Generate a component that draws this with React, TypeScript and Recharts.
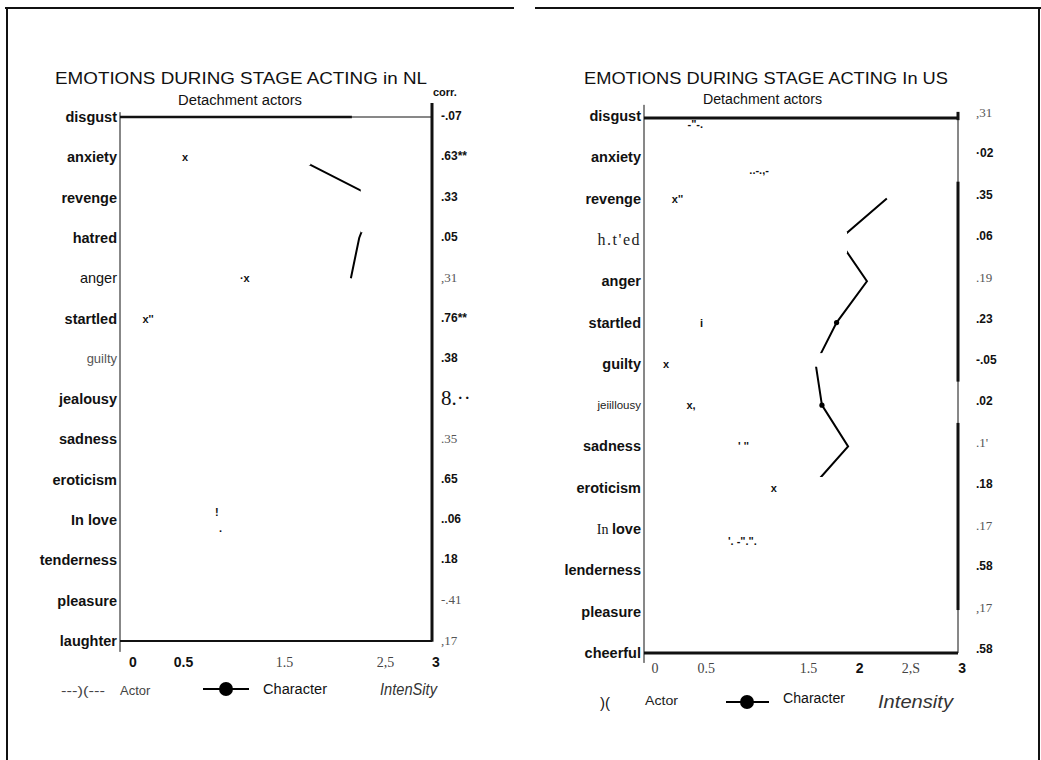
import React from 'react';
import { LineChart, Line, XAxis, YAxis, ReferenceLine, ReferenceArea } from 'recharts';

// ---------- NL panel data ----------
const nlEmotions = ['disgust', 'anxiety', 'revenge', 'hatred', 'anger', 'startled', 'guilty', 'jealousy', 'sadness', 'eroticism', 'In love', 'tenderness', 'pleasure', 'laughter'];
const nlCorr = ['-.07', '.63**', '.33', '.05', ',31', '.76**', '.38', '8.··', '.35', '.65', '..06', '.18', '-.41', ',17'];
const nlCharacter = [null, 1.69, 2.45, 2.3, 2.22, null, null, null, null, null, null, null, null, null];
const nlActor = [null, 0.625, null, null, 1.2, 0.27, null, null, null, null, 0.93, null, null, null];
const nlActorMarks = ['', 'x', '', '', '·x', "x''", '', '', '', '', '!\n·', '', '', ''];
const nlTicks = [0, 0.5, 1.5, 2.5, 3];
const nlTickLabels = ['0', '0.5', '1.5', '2,5', '3'];

// ---------- US panel data ----------
const usEmotions = ['disgust', 'anxiety', 'revenge', "h.t'ed", 'anger', 'startled', 'guilty', 'jeiillousy', 'sadness', 'eroticism', 'In love', 'lenderness', 'pleasure', 'cheerful'];
const usCorr = [',31', '·02', '.35', '.06', '.19', '.23', '-.05', '.02', ".1'", '.18', '.17', '.58', ',17', '.58'];
const usCharacter = [null, null, 2.32, 1.86, 2.13, 1.84, 1.64, 1.7, 1.95, 1.6, null, null, null, null];
const usActor = [0.49, 1.1, 0.32, null, null, 0.55, 0.21, 0.45, 0.95, 1.24, 0.94, null, null, null];
const usActorMarks = ['-"-.', '..-.,-', "x''", '', '', 'i', 'x', 'x,', "' ''", 'x', '\'. -".".', '', '', ''];
const usTicks = [0, 0.5, 1.5, 2, 2.5, 3];
const usTickLabels = ['0', '0.5', '1.5', '2', '2,S', '3'];

// ---------- styling ----------
const SANS = '"Liberation Sans", Arial, Helvetica, sans-serif';
const SERIF = '"Liberation Serif", "Times New Roman", serif';

const FONTS: Record<string, React.CSSProperties> = {
  b: { fontFamily: SANS, fontWeight: 700, fontSize: 14.5, fill: '#111' },
  r: { fontFamily: SANS, fontWeight: 400, fontSize: 14.5, fill: '#111' },
  g: { fontFamily: SANS, fontWeight: 400, fontSize: 13, fill: '#555' },
  t: { fontFamily: SANS, fontWeight: 400, fontSize: 11.5, fill: '#222' },
  s: { fontFamily: SERIF, fontWeight: 400, fontSize: 16, fill: '#222', letterSpacing: 1.5 },
  m: { fontFamily: SANS, fontWeight: 700, fontSize: 14.5, fill: '#111' },
  c: { fontFamily: SANS, fontWeight: 700, fontSize: 12, fill: '#111' },
  f: { fontFamily: SERIF, fontWeight: 400, fontSize: 13, fill: '#555' },
  S: { fontFamily: SERIF, fontWeight: 400, fontSize: 21, fill: '#111' },
  x: { fontFamily: SANS, fontWeight: 700, fontSize: 14, fill: '#111' },
  y: { fontFamily: SERIF, fontWeight: 400, fontSize: 14, fill: '#444' },
};

const nlLabelKinds = 'bbbbrbgbbbbbbb';
const nlCorrKinds = 'ccccfccSfcccff';
const nlTickKinds = 'xxyyx';
const usLabelKinds = 'bbbsbbbtbbmbbb';
const usCorrKinds = 'fcccfcccfcfcfc';
const usTickKinds = 'yyyxyx';

type Seg = { a: [number, number]; b: [number, number]; w: number };

interface PanelProps {
  left: number;
  width: number;
  margin: { top: number; right: number; bottom: number; left: number };
  yWidthL: number;
  yWidthR: number;
  emotions: string[];
  labelKinds: string;
  corr: string[];
  corrKinds: string;
  corrMargin: number;
  corrDy: number;
  character: (number | null)[];
  actor: (number | null)[];
  marks: string[];
  markShift: number[];
  ticks: number[];
  tickLabels: string[];
  tickKinds: string;
  tickShift: (v: number) => number;
  tickDy: number;
  frame: Seg[];
  masks: [number, number, number, number][];
  charDots: number[];
}

function Panel(p: PanelProps) {
  const data = p.emotions.map((name, i) => ({
    idx: i,
    name,
    character: p.character[i],
    actor: p.actor[i],
  }));
  const idxTicks = p.emotions.map((_, i) => i);

  const leftTick = (props: any) => {
    const { x, y, payload } = props;
    const i = Math.round(payload.value);
    const kind = p.labelKinds[i];
    const label = p.emotions[i];
    if (kind === 'm') {
      const sp = label.indexOf(' ');
      return (
        <text x={x} y={y} textAnchor="end" dominantBaseline="central" style={FONTS.m}>
          <tspan style={{ fontFamily: SERIF, fontWeight: 400, fontSize: 14 }}>{label.slice(0, sp + 1)}</tspan>
          <tspan>{label.slice(sp + 1)}</tspan>
        </text>
      );
    }
    return (
      <text x={x} y={y} textAnchor="end" dominantBaseline="central" style={FONTS[kind]}>
        {label}
      </text>
    );
  };
  const rightTick = (props: any) => {
    const { x, y, payload } = props;
    const i = Math.round(payload.value);
    return (
      <text x={x} y={y + p.corrDy} textAnchor="start" dominantBaseline="central" style={FONTS[p.corrKinds[i]]}>
        {p.corr[i]}
      </text>
    );
  };
  const bottomTick = (props: any) => {
    const { x, y, payload } = props;
    const i = p.ticks.indexOf(payload.value);
    if (i < 0) return <g />;
    return (
      <text x={x + p.tickShift(payload.value)} y={y + p.tickDy} textAnchor="middle" style={FONTS[p.tickKinds[i]]}>
        {p.tickLabels[i]}
      </text>
    );
  };

  const charDot = (props: any) => {
    const { cx, cy } = props;
    const i = props.payload ? props.payload.idx : -1;
    if (cx == null || cy == null || !p.charDots.includes(i)) return <g key={`cd${props.index}`} />;
    return <circle key={`cd${props.index}`} cx={cx} cy={cy} r={2.6} fill="#000" />;
  };
  const actorDot = (props: any) => {
    const { cx, cy } = props;
    const i = props.payload ? props.payload.idx : -1;
    const m = i >= 0 ? p.marks[i] : '';
    if (cx == null || cy == null || !m) return <g key={`ad${props.index}`} />;
    const lines = m.split('\n');
    return (
      <text
        key={`ad${props.index}`}
        x={cx}
        y={cy + p.markShift[i] - (lines.length > 1 ? 9 : 0)}
        textAnchor="middle"
        dominantBaseline="central"
        style={{ fontFamily: SANS, fontWeight: 700, fontSize: 11, fill: '#111' }}
      >
        {lines.map((l, j) => (
          <tspan key={j} x={cx + j * 4} dy={j === 0 ? 0 : 19}>
            {l}
          </tspan>
        ))}
      </text>
    );
  };

  return (
    <div style={{ position: 'absolute', left: p.left, top: 0, width: p.width, height: 760 }}>
      <LineChart width={p.width} height={760} data={data} layout="vertical" margin={p.margin}>
        <XAxis
          type="number"
          domain={[0, 3]}
          allowDataOverflow
          ticks={p.ticks}
          interval={0}
          axisLine={false}
          tickLine={false}
          tickSize={0}
          tickMargin={0}
          height={30}
          tick={bottomTick}
        />
        <YAxis
          yAxisId="l"
          type="number"
          dataKey="idx"
          domain={[0, 13]}
          allowDataOverflow
          ticks={idxTicks}
          interval={0}
          axisLine={false}
          tickLine={false}
          tickSize={0}
          tickMargin={3}
          width={p.yWidthL}
          tick={leftTick}
        />
        <YAxis
          yAxisId="r"
          orientation="right"
          type="number"
          dataKey="idx"
          domain={[0, 13]}
          allowDataOverflow
          ticks={idxTicks}
          interval={0}
          axisLine={false}
          tickLine={false}
          tickSize={0}
          tickMargin={p.corrMargin}
          width={p.yWidthR}
          tick={rightTick}
        />
        {p.frame.map((s, k) => (
          <ReferenceLine
            key={`f${k}`}
            yAxisId="l"
            segment={[{ x: s.a[0], y: s.a[1] }, { x: s.b[0], y: s.b[1] }]}
            stroke="#111"
            strokeWidth={s.w}
            ifOverflow="visible"
          />
        ))}
        <Line
          yAxisId="l"
          dataKey="character"
          stroke="#000"
          strokeWidth={2}
          dot={charDot}
          activeDot={false}
          isAnimationActive={false}
          connectNulls={false}
        />
        <Line
          yAxisId="r"
          dataKey="actor"
          stroke="none"
          strokeWidth={0}
          dot={actorDot}
          activeDot={false}
          isAnimationActive={false}
          connectNulls={false}
        />
        {p.masks.map((m, k) => (
          <ReferenceArea
            key={`m${k}`}
            yAxisId="l"
            x1={m[0]}
            x2={m[1]}
            y1={m[2]}
            y2={m[3]}
            fill="#fff"
            fillOpacity={1}
            stroke="none"
            ifOverflow="visible"
            {...({ zIndex: 450 } as any)}
          />
        ))}
      </LineChart>
    </div>
  );
}

export default function App() {
  return (
    <div style={{ position: 'absolute', left: 0, top: 0, width: 1041, height: 760, background: '#fff', overflow: 'hidden' }}>
      <Panel
        left={0}
        width={520}
        margin={{ top: 117, right: 8, bottom: 89, left: 10 }}
        yWidthL={110}
        yWidthR={80}
        emotions={nlEmotions}
        labelKinds={nlLabelKinds}
        corr={nlCorr}
        corrKinds={nlCorrKinds}
        corrMargin={9}
        corrDy={-1}
        character={nlCharacter}
        actor={nlActor}
        marks={nlActorMarks}
        markShift={[0, 0, 0, 0, 0, 0, 0, 0, 0, 0, 1, 0, 0, 0]}
        ticks={nlTicks}
        tickLabels={nlTickLabels}
        tickKinds={nlTickKinds}
        tickShift={(v) => 13 - 3 * v}
        tickDy={26}
        frame={[
          { a: [0, 0], b: [2.23, 0], w: 2.6 },
          { a: [2.23, 0], b: [3, 0], w: 1 },
          { a: [0, 13], b: [3, 13], w: 1.8 },
          { a: [0, -0.12], b: [0, 13.27], w: 1 },
          { a: [3, -0.35], b: [3, 13.02], w: 3 },
        ]}
        masks={[
          [1.4, 1.83, 0.8, 1.19],
          [2.315, 2.7, 1.7, 2.86],
        ]}
        charDots={[]}
      />
      <Panel
        left={520}
        width={521}
        margin={{ top: 116, right: 8, bottom: 77, left: 10 }}
        yWidthL={114}
        yWidthR={75}
        emotions={usEmotions}
        labelKinds={usLabelKinds}
        corr={usCorr}
        corrKinds={usCorrKinds}
        corrMargin={18}
        corrDy={-4}
        character={usCharacter}
        actor={usActor}
        marks={usActorMarks}
        markShift={[8, 13, 0, 0, 0, 0, 0, 0, 0, 0, 12, 0, 0, 0]}
        ticks={usTicks}
        tickLabels={usTickLabels}
        tickKinds={usTickKinds}
        tickShift={(v) => 11 - 2.3 * v}
        tickDy={20}
        frame={[
          { a: [0, 0.05], b: [3, 0.05], w: 3 },
          { a: [0, 13], b: [3, 13], w: 3 },
          { a: [0, -0.27], b: [0, 13.24], w: 1 },
          { a: [3, 0], b: [3, 13], w: 1 },
          { a: [3, -0.1], b: [3, 0.1], w: 3 },
          { a: [3, 1.59], b: [3, 6.43], w: 3 },
          { a: [3, 7.43], b: [3, 11.96], w: 3 },
        ]}
        masks={[
          [1.5, 1.94, 2.81, 3.32],
          [1.5, 1.78, 5.74, 6.07],
          [1.3, 2.1, 8.74, 9.3],
        ]}
        charDots={[5, 7]}
      />
      <svg width={1041} height={760} style={{ position: 'absolute', left: 0, top: 0, pointerEvents: 'none' }}>
        {/* outer frame */}
        <line x1={5} y1={8} x2={514} y2={8} stroke="#111" strokeWidth={2} />
        <line x1={535} y1={8} x2={1041} y2={8} stroke="#111" strokeWidth={2} />
        <line x1={7} y1={8} x2={7} y2={760} stroke="#111" strokeWidth={2} />
        <line x1={1039} y1={8} x2={1039} y2={760} stroke="#111" strokeWidth={2} />

        {/* NL titles */}
        <text x={55} y={84} textLength={372} lengthAdjust="spacingAndGlyphs" style={{ fontFamily: SANS, fontSize: 17, fill: '#111' }}>
          EMOTIONS DURING STAGE ACTING in NL
        </text>
        <text x={178} y={105} textLength={124} lengthAdjust="spacingAndGlyphs" style={{ fontFamily: SANS, fontSize: 14, fill: '#111' }}>
          Detachment actors
        </text>
        <text x={433} y={96} style={{ fontFamily: SANS, fontWeight: 700, fontSize: 11, fill: '#111' }}>
          corr.
        </text>

        {/* US titles */}
        <text x={584} y={84} textLength={364} lengthAdjust="spacingAndGlyphs" style={{ fontFamily: SANS, fontSize: 17, fill: '#111' }}>
          EMOTIONS DURING STAGE ACTING In US
        </text>
        <text x={703} y={104} textLength={119} lengthAdjust="spacingAndGlyphs" style={{ fontFamily: SANS, fontSize: 14, fill: '#111' }}>
          Detachment actors
        </text>

        {/* NL legend */}
        <text x={61} y={695} textLength={44} lengthAdjust="spacingAndGlyphs" style={{ fontFamily: SANS, fontSize: 13, fill: '#444' }}>
          ---)(---
        </text>
        <text x={120} y={695} style={{ fontFamily: SANS, fontSize: 13, fill: '#444' }}>
          Actor
        </text>
        <line x1={203} y1={689} x2={249} y2={689} stroke="#000" strokeWidth={2} />
        <circle cx={226} cy={689} r={7} fill="#000" />
        <text x={263} y={694} textLength={64} lengthAdjust="spacingAndGlyphs" style={{ fontFamily: SANS, fontSize: 14, fill: '#111' }}>
          Character
        </text>
        <text x={380} y={695} textLength={57} lengthAdjust="spacingAndGlyphs" style={{ fontFamily: SANS, fontStyle: 'italic', fontSize: 17, fill: '#333' }}>
          IntenSity
        </text>

        {/* US legend */}
        <text x={600} y={708} style={{ fontFamily: SANS, fontSize: 15, fill: '#111' }}>
          )(
        </text>
        <text x={645} y={705} textLength={33} lengthAdjust="spacingAndGlyphs" style={{ fontFamily: SANS, fontSize: 13, fill: '#222' }}>
          Actor
        </text>
        <line x1={726} y1={702} x2={769} y2={702} stroke="#000" strokeWidth={2} />
        <circle cx={747} cy={702} r={7} fill="#000" />
        <text x={783} y={703} textLength={62} lengthAdjust="spacingAndGlyphs" style={{ fontFamily: SANS, fontSize: 14, fill: '#111' }}>
          Character
        </text>
        <text x={878} y={708} textLength={75} lengthAdjust="spacingAndGlyphs" style={{ fontFamily: SANS, fontStyle: 'italic', fontSize: 18, fill: '#333' }}>
          Intensity
        </text>
      </svg>
    </div>
  );
}
